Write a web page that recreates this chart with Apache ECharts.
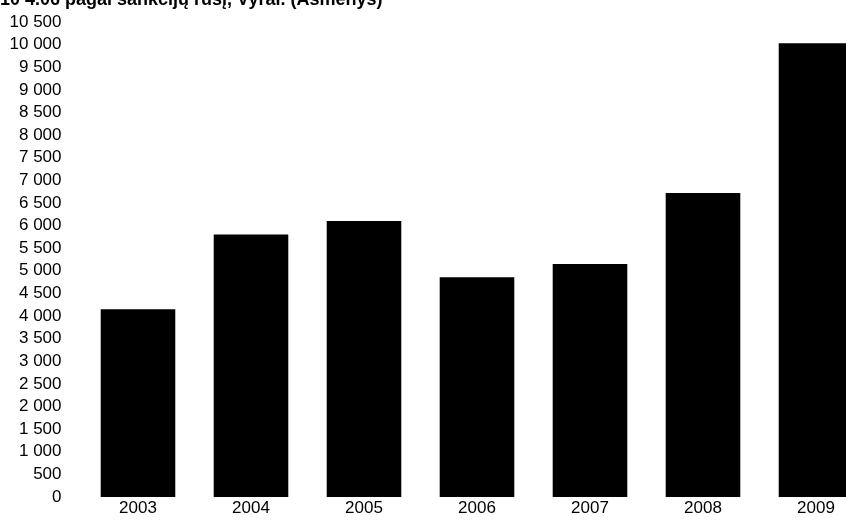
<!DOCTYPE html>
<html>
<head>
<meta charset="utf-8">
<script src="https://cdn.jsdelivr.net/npm/echarts@6/dist/echarts.min.js"></script>
<style>html,body{margin:0;padding:0;background:#fff;overflow:hidden;width:846px;height:522px;}#c{width:873px;height:522px;}</style>
</head>
<body>
<div id="c"></div>
<script>
var titleText = '10 4.06 pagal sankcijų rūšį, Vyrai. (Asmenys)';
var categories = ['2003', '2004', '2005', '2006', '2007', '2008', '2009'];
var values = [4150, 5800, 6100, 4860, 5150, 6720, 10030];
var yMin = 0, yMax = 10500, yStep = 500;

var chart = echarts.init(document.getElementById('c'));
var labelFont = "'Liberation Sans', Arial, sans-serif";
chart.setOption({
  animation: false,
  backgroundColor: '#fff',
  title: {
    text: titleText,
    left: 0,
    top: -9,
    padding: 0,
    textStyle: { fontFamily: "'Liberation Sans', Arial, sans-serif", fontWeight: 'bold', fontSize: 18, lineHeight: 18, color: '#000' }
  },
  grid: { left: 81.5, right: 0.5, top: 22, bottom: 25, containLabel: false },
  xAxis: {
    type: 'category',
    data: categories,
    axisLine: { show: false },
    axisTick: { show: false },
    axisLabel: { color: '#000', fontSize: 17, fontFamily: labelFont, margin: 3 }
  },
  yAxis: {
    type: 'value',
    min: yMin, max: yMax, interval: yStep,
    splitLine: { show: false },
    axisLine: { show: false },
    axisTick: { show: false },
    axisLabel: {
      color: '#000', fontSize: 17, fontFamily: labelFont, margin: 20,
      formatter: function (v) { return String(v).replace(/\B(?=(\d{3})+(?!\d))/g, ' '); }
    }
  },
  series: [{
    type: 'bar',
    data: values,
    barCategoryGap: '34%',
    itemStyle: { color: '#000' }
  }]
});
</script>
</body>
</html>
